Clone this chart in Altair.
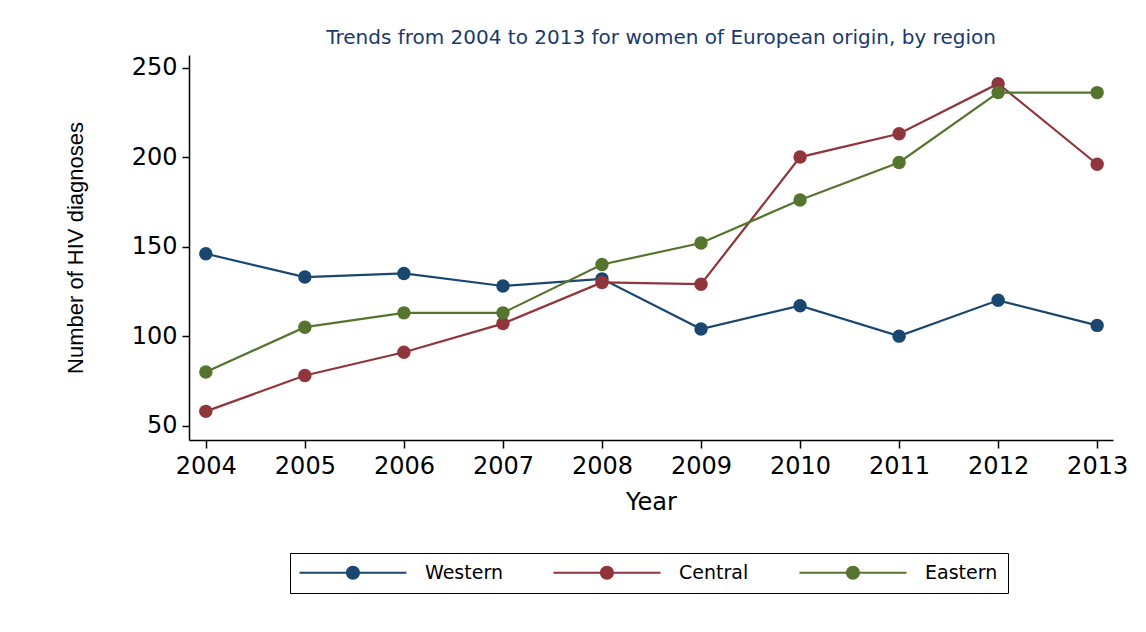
import altair as alt
import pandas as pd

years = [2004, 2005, 2006, 2007, 2008, 2009, 2010, 2011, 2012, 2013]
regions = ["Western", "Central", "Eastern"]
western = [146, 133, 135, 128, 132, 104, 117, 100, 120, 106]
central = [58, 78, 91, 107, 130, 129, 200, 213, 241, 196]
eastern = [80, 105, 113, 113, 140, 152, 176, 197, 236, 236]
colors = ["#1a476f", "#90353b", "#55752f"]
y_ticks = [50, 100, 150, 200, 250]

rows = []
for name, vals in zip(regions, [western, central, eastern]):
    for yr, v in zip(years, vals):
        rows.append({"Year": yr, "Value": v, "Region": name})
df = pd.DataFrame(rows)

# legend symbol: horizontal bar + dot drawn as one filled path (same winding).
# symbolSize 196 -> 1 path unit = 7 px.
h = 0.16
x0 = -1.43
x1 = 13.86
cx = 6.21
r = 1.0
sym = (f"M{x0},{-h}H{x1}V{h}H{x0}Z "
       f"M{cx - r},0A{r},{r} 0 1 1 {cx + r},0A{r},{r} 0 1 1 {cx - r},0Z")

xenc = alt.X("Year:Q",
             scale=alt.Scale(domain=[2003.83, 2013.16], nice=False, zero=False),
             axis=alt.Axis(values=years, format="d", title="Year",
                           titleFont="DejaVu Sans", titleFontSize=24,
                           titleFontWeight="normal", titleY=62, titleBaseline="middle",
                           labelFont="DejaVu Sans", labelFontSize=24, labelPadding=6,
                           tickSize=8))
yenc = alt.Y("Value:Q",
             scale=alt.Scale(domain=[42, 257], nice=False, zero=False),
             axis=alt.Axis(values=y_ticks, title="Number of HIV diagnoses",
                           titleFont="Liberation Sans", titleFontSize=22,
                           titleFontWeight="normal", titleX=-114, titleBaseline="middle",
                           labelFont="DejaVu Sans", labelFontSize=24, labelPadding=5,
                           tickSize=7))
color_scale = alt.Scale(domain=regions, range=colors)

lines = alt.Chart(df).mark_line(strokeWidth=2.2).encode(
    x=xenc, y=yenc,
    color=alt.Color("Region:N", scale=color_scale, legend=None),
    detail="Region:N",
)
points = alt.Chart(df).mark_point(filled=True, size=180, opacity=1, shape="circle").encode(
    x=xenc, y=yenc,
    color=alt.Color("Region:N", scale=color_scale,
                    legend=alt.Legend(title=None, orient="none", legendX=101, legendY=498,
                                      direction="horizontal", columns=3,
                                      symbolType=sym, symbolSize=196,
                                      symbolOpacity=1, symbolStrokeWidth=0,
                                      labelFont="DejaVu Sans", labelFontSize=19,
                                      labelColor="black", labelOffset=106,
                                      columnPadding=50, gridAlign="each",
                                      padding=10, strokeColor="black", fillColor="white")),
)

chart = alt.layer(lines, points).resolve_legend(color="independent").properties(
    width=924, height=385,
    autosize=alt.AutoSizeParams(type="none"),
    padding={"left": 189, "top": 55, "right": 33, "bottom": 192},
    background="white",
    title=alt.TitleParams("Trends from 2004 to 2013 for women of European origin, by region",
                          font="DejaVu Sans", fontSize=20, fontWeight="normal",
                          color="#1a3a6e", anchor="middle", offset=7, dx=10),
).configure_view(stroke="transparent").configure_axis(
    grid=False, domainColor="black", domainWidth=1.5, tickColor="black",
    tickWidth=1.5, labelColor="black", titleColor="black"
)

chart.save("out.html", embed_options={"renderer": "svg", "actions": False})
